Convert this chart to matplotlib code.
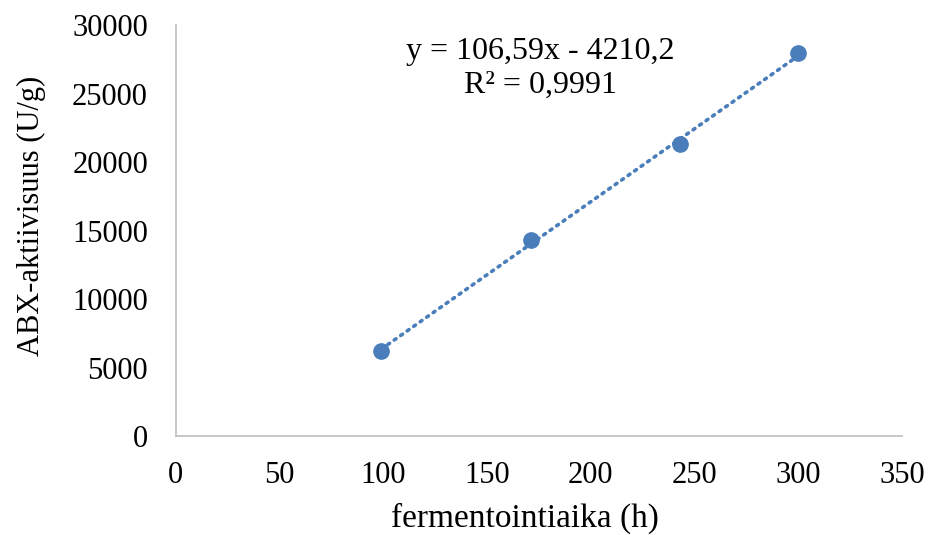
import numpy as np
import matplotlib
matplotlib.use("Agg")
import matplotlib.pyplot as plt

# Fermentation time (h) and ABX activity (U/g)
time_h = [99, 171, 243, 300]
activity = [6200, 14300, 21350, 27950]

# Linear trendline coefficients
slope = 106.59
intercept = -4210.2
r_squared = 0.9991

x_ticks = [0, 50, 100, 150, 200, 250, 300, 350]
y_ticks = [0, 5000, 10000, 15000, 20000, 25000, 30000]

plt.rcParams["font.family"] = ["Liberation Serif", "DejaVu Serif"]

fig = plt.figure(figsize=(9.3, 5.35), dpi=100)
ax = fig.add_axes([0.189, 0.185, 0.781, 0.768])

blue = "#4a7ebb"
trend_x = np.array([min(time_h), max(time_h)])
trend_y = slope * trend_x + intercept
ax.plot(trend_x, trend_y, linestyle=(0, (0.6, 1.6)), color=blue,
        linewidth=2.6, dash_capstyle="round", zorder=2)
ax.plot(time_h, activity, "o", color=blue, markersize=11, zorder=3)

ax.set_xlim(0, 350)
ax.set_ylim(0, 30000)
ax.set_xticks(x_ticks)
ax.set_yticks(y_ticks)
ax.tick_params(length=0, labelsize=22)
ax.tick_params(axis="x", pad=18)
ax.tick_params(axis="y", pad=20)

for side in ("top", "right"):
    ax.spines[side].set_visible(False)
for side in ("left", "bottom"):
    ax.spines[side].set_color("#bfbfbf")
    ax.spines[side].set_linewidth(1.2)

ax.set_xlabel("fermentointiaika (h)", fontsize=24, va="top")
ax.xaxis.set_label_coords(0.481, -0.163)
ax.set_ylabel("ABX-aktiivisuus (U/g)", fontsize=22)
ax.yaxis.set_label_coords(-0.178, 0.536)

eq = f"y = {slope:.2f}x - {abs(intercept):.1f}".replace(".", ",")
r2 = f"R² = {r_squared:.4f}".replace(".", ",")
ax.text(0.502, 0.895, eq + "\n" + r2, transform=ax.transAxes, ha="center",
        va="center", fontsize=23, linespacing=1.2)

fig.savefig("out.png", dpi=100)
